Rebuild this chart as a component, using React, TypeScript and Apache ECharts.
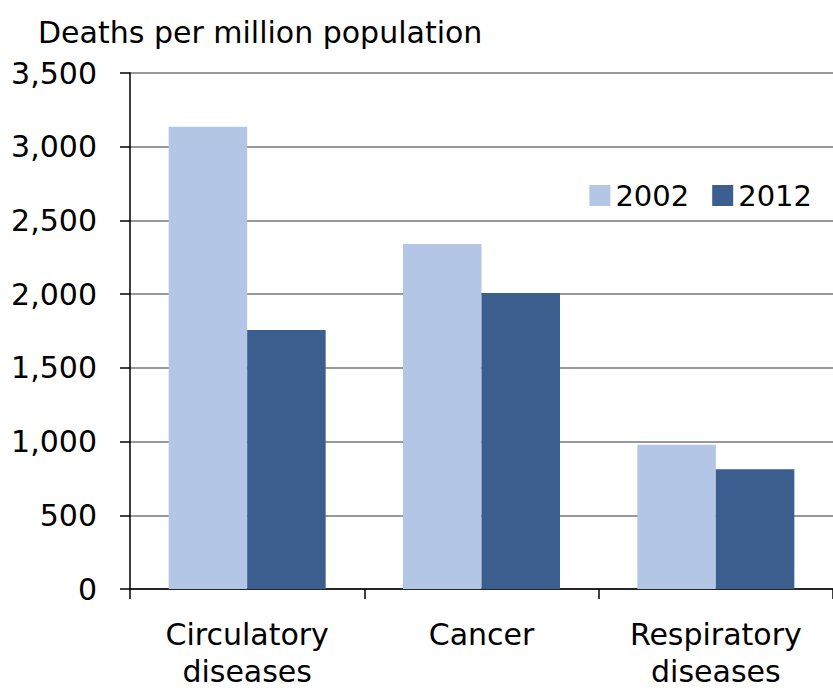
import React, { useEffect, useRef } from "react";
import * as echarts from "echarts";

const categories = ["Circulatory\ndiseases", "Cancer", "Respiratory\ndiseases"];
const values2002 = [3135, 2340, 978];
const values2012 = [1757, 2008, 812];
const seriesNames = ["2002", "2012"];
const yTitle = "Deaths per million population";

export default function App() {
  const ref = useRef<HTMLDivElement>(null);
  useEffect(() => {
    if (!ref.current) return;
    const chart = echarts.init(ref.current, undefined, { renderer: "svg" });
    const font = "DejaVu Sans, sans-serif";
    chart.setOption({
      animation: false,
      textStyle: { fontFamily: font },
      title: {
        text: yTitle,
        left: 38,
        top: 17,
        padding: 0,
        textStyle: { fontFamily: font, fontSize: 30, fontWeight: "normal", color: "#000" },
      },
      legend: {
        data: seriesNames,
        right: 21,
        top: 181,
        padding: 0,
        icon: "rect",
        itemWidth: 21,
        itemHeight: 21,
        itemGap: 23,
        textStyle: { fontFamily: font, fontSize: 29, color: "#000" },
      },
      grid: { left: 130, top: 73, width: 708, height: 516, containLabel: false },
      xAxis: {
        type: "category",
        data: categories,
        axisLine: { lineStyle: { color: "#000", width: 1.5 } },
        axisTick: { show: true, length: 10, lineStyle: { color: "#000", width: 1.5 } },
        axisLabel: { fontFamily: font, fontSize: 30, color: "#000", margin: 27, lineHeight: 37 },
      },
      yAxis: {
        type: "value",
        min: 0,
        max: 3500,
        interval: 500,
        axisLine: { show: true, lineStyle: { color: "#000", width: 1.5 } },
        axisTick: { show: true, length: 10, lineStyle: { color: "#000", width: 1.5 } },
        splitLine: { show: true, lineStyle: { color: "#999", width: 2 } },
        axisLabel: {
          fontFamily: font,
          fontSize: 30,
          color: "#000",
          margin: 33,
          formatter: (v: number) => v.toLocaleString("en-US"),
        },
      },
      series: [
        {
          name: seriesNames[0],
          type: "bar",
          data: values2002,
          itemStyle: { color: "#B3C6E5" },
          barGap: "0%",
          barCategoryGap: "33%",
        },
        {
          name: seriesNames[1],
          type: "bar",
          data: values2012,
          itemStyle: { color: "#3B5E8E" },
          barGap: "0%",
          barCategoryGap: "33%",
        },
      ],
    });
    return () => chart.dispose();
  }, []);
  return <div ref={ref} style={{ width: 833, height: 690, position: "absolute", left: 0, top: 0 }} />;
}
